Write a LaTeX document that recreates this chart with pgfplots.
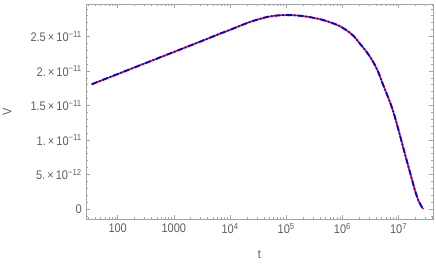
\documentclass[border=0pt]{standalone}
\usepackage{pgfplots}
\usepackage{pgfplotstable}
\pgfplotsset{compat=1.18}
\usepackage{fontspec}
\setmainfont{Liberation Sans}[FakeStretch=0.88]
\definecolor{frame}{RGB}{165,165,165}
\definecolor{lab}{RGB}{95,95,95}
\pgfplotstableread{
t V
34.4 1.807e-11
100 1.955e-11
316.2 2.115e-11
1000 2.275e-11
3162 2.435e-11
6607 2.54e-11
10000 2.595e-11
15136 2.655e-11
25704 2.725e-11
51286 2.79e-11
100000 2.81e-11
199526 2.795e-11
398107 2.75e-11
630957 2.70e-11
895365 2.65e-11
1177606 2.59e-11
1545254 2.515e-11
2032357 2.40e-11
2673006 2.28e-11
3507519 2.135e-11
4315191 1.99e-11
5296634 1.80e-11
6501296 1.62e-11
7979946 1.42e-11
10000000 1.14e-11
12882496 8.07e-12
15848932 5.4e-12
19498446 2.75e-12
22387211 1.3e-12
25703958 0.33e-12
27542287 0
}\data
\begin{document}
\fontsize{12.5}{14}\selectfont
\begin{tikzpicture}
\begin{axis}[
  scale only axis, width=347pt, height=215pt,
  xmode=log, log basis x=10,
  xmin=27.3, xmax=4.1e7, ymin=-1.45e-12, ymax=2.97e-11,
  scaled y ticks=false, scaled x ticks=false,
  axis line style={draw=frame, line width=0.8pt},
  every tick/.style={draw=frame, line width=0.6pt},
  tick align=inside, major tick length=4pt, minor tick length=2.3pt,
  ticklabel style={text=lab, font=\fontsize{12.5}{14}\selectfont},
  xtick={100,1000,1e4,1e5,1e6,1e7},
  xticklabels={100,1000,10\textsuperscript{4},10\textsuperscript{5},10\textsuperscript{6},10\textsuperscript{7}},
  minor xtick={30,40,50,60,70,80,90,200,300,400,500,600,700,800,900,2000,3000,4000,5000,6000,7000,8000,9000,20000,30000,40000,50000,60000,70000,80000,90000,2e5,3e5,4e5,5e5,6e5,7e5,8e5,9e5,2e6,3e6,4e6,5e6,6e6,7e6,8e6,9e6,2e7,3e7,4e7},
  ytick={0,5e-12,1e-11,1.5e-11,2e-11,2.5e-11},
  yticklabels={0,5.\,×\,10\textsuperscript{−12},1.\,×\,10\textsuperscript{−11},1.5\,×\,10\textsuperscript{−11},2.\,×\,10\textsuperscript{−11},2.5\,×\,10\textsuperscript{−11}},
  minor ytick={-1e-12,1e-12,2e-12,3e-12,4e-12,6e-12,7e-12,8e-12,9e-12,1.1e-11,1.2e-11,1.3e-11,1.4e-11,1.6e-11,1.7e-11,1.8e-11,1.9e-11,2.1e-11,2.2e-11,2.3e-11,2.4e-11,2.6e-11,2.7e-11,2.8e-11,2.9e-11},
  xlabel={t}, ylabel={V},
  label style={text=lab, font=\fontsize{12.5}{14}\selectfont},
  xlabel style={at={(axis description cs:0.5,-0.1674)}, anchor=center},
  ylabel style={at={(axis description cs:-0.2277,0.5)}, anchor=center},
]
\addplot[red, line width=1.5pt, smooth, tension=0.55] table[x=t,y=V]{\data};
\addplot[blue, line width=1.9pt, smooth, tension=0.55, dash pattern=on 6pt off 2pt on 1.5pt off 2pt] table[x=t,y=V]{\data};
\coordinate (SW) at (rel axis cs:0,0);
\coordinate (NE) at (rel axis cs:1,1);
\end{axis}
\pgfresetboundingbox
\path ([xshift=-86pt,yshift=-46pt]SW) rectangle ([xshift=3pt,yshift=4pt]NE);
\end{tikzpicture}
\end{document}
